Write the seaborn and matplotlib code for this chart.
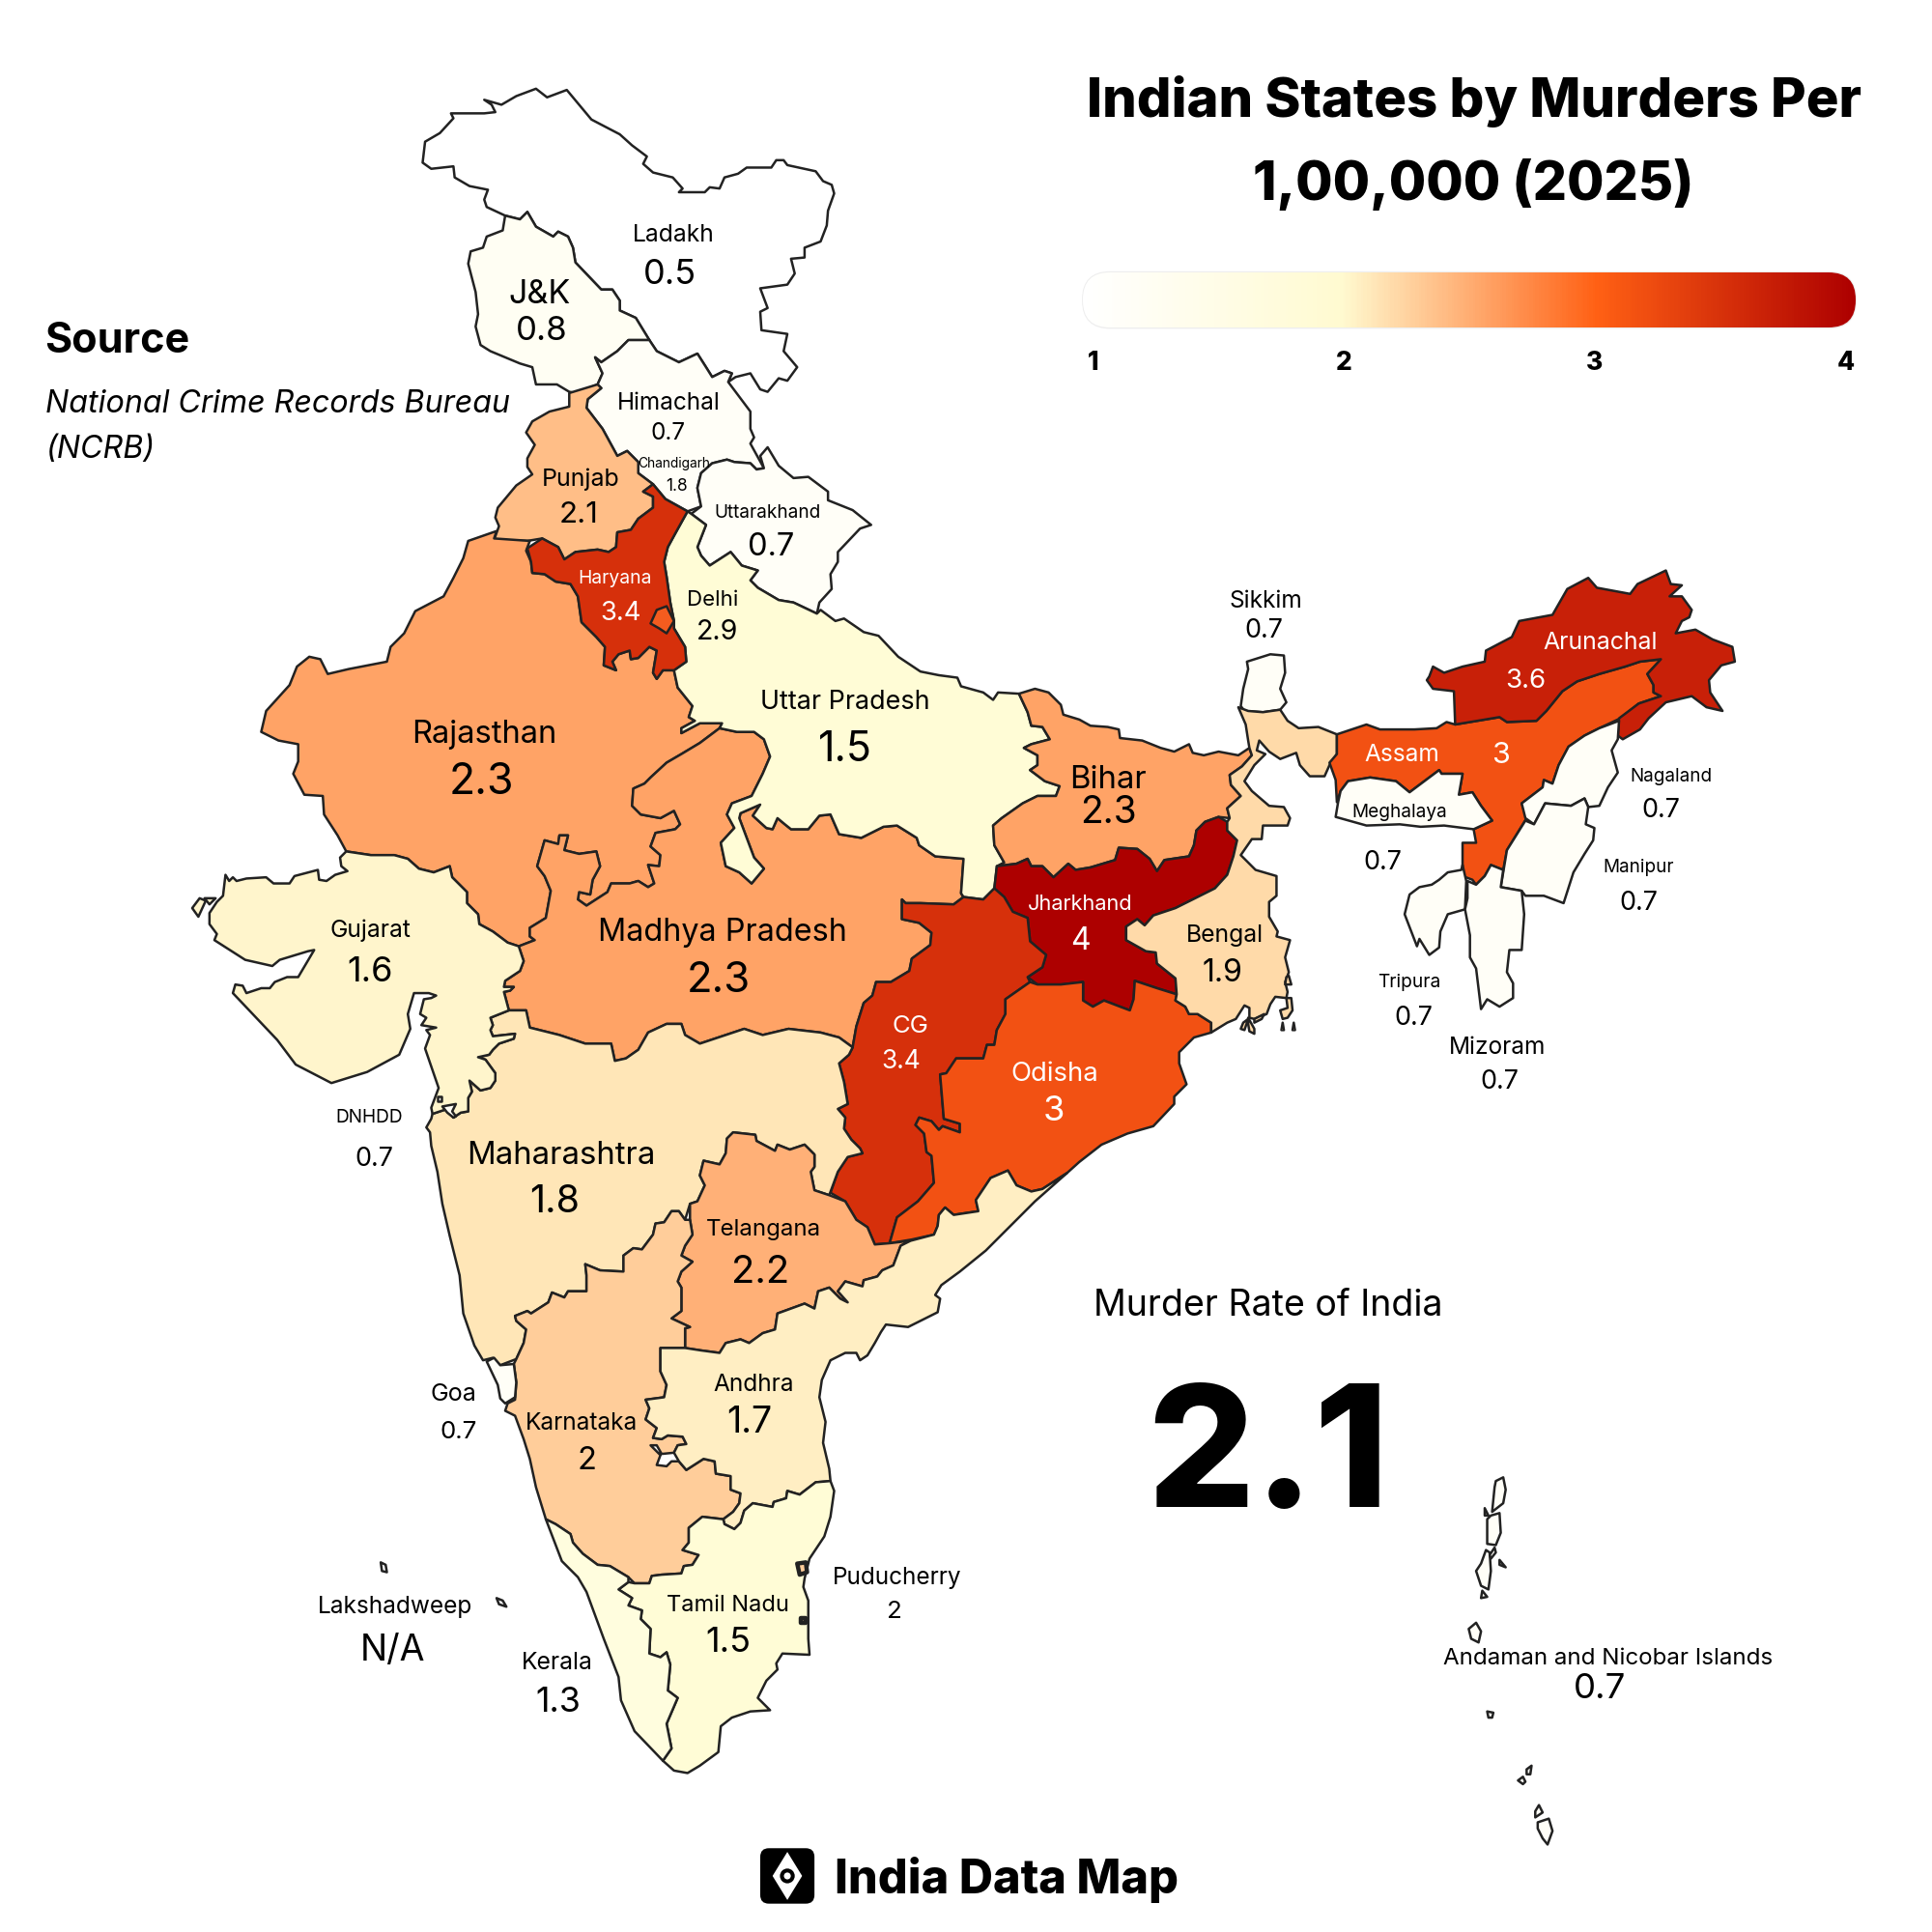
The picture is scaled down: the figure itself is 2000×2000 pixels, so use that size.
import numpy as np
import matplotlib
matplotlib.use("Agg")
import matplotlib.pyplot as plt
from matplotlib.colors import LinearSegmentedColormap, Normalize
from matplotlib.patches import FancyBboxPatch, Polygon, Circle
import seaborn as sns

# state outlines (image units, y going down)
LADAKH = [(435,72),(444,79),(460,73),(470,85),(480,97),(503,109),(513,118),(525,127),(522,133),(530,140),(546,144),(554,153),(551,156),(572,156),(576,152),(584,153),(588,144),(599,141),(606,136),(626,136),(630,130),(636,130),(639,134),(662,139),(668,147),(675,150),(677,157),(672,171),(671,183),(666,196),(653,201),(653,209),(642,210),(645,222),(639,231),(617,234),(623,250),(617,253),(618,268),(639,271),(636,285),(647,298),(639,309),(632,307),(623,318),(617,316),(609,303),(597,306),(591,310),(594,303),(588,301),(578,306),(573,298),(566,287),(551,294),(533,285),(527,276),(516,258),(503,252),(503,244),(497,235),(488,235),(467,213),(465,201),(461,192),(453,188),(449,192),(435,184),(428,172),(422,178),(410,175),(395,168),(393,162),(396,154),(381,151),(369,144),(368,135),(350,137),(343,132),(345,115),(357,108),(368,96),(366,92),(393,92),(402,91),(399,85),(393,81),(407,85),(419,78)]
JK = [(410,175),(422,178),(428,172),(435,184),(449,192),(453,188),(461,192),(465,201),(467,213),(488,235),(497,235),(503,244),(503,252),(516,258),(527,276),(510,276),(501,285),(488,294),(483,290),(489,303),(485,312),(468,319),(462,318),(452,312),(435,312),(432,298),(422,295),(398,285),(390,280),(386,265),(388,255),(386,237),(380,214),(382,204),(392,201),(395,192),(408,187)]
HIMACHAL = [(527,276),(533,285),(551,294),(566,287),(573,298),(578,306),(588,301),(594,303),(591,310),(597,318),(609,334),(609,348),(612,355),(609,360),(620,380),(614,381),(609,376),(596,375),(590,373),(578,376),(569,384),(566,396),(569,411),(558,415),(540,405),(530,393),(518,384),(518,375),(509,366),(501,370),(489,348),(476,331),(477,324),(488,315),(485,312),(489,303),(483,290),(488,294),(501,285),(510,276)]
UTTARAKHAND = [(623,363),(632,378),(644,388),(656,387),(672,399),(672,406),(692,414),(707,426),(698,429),(680,448),(680,456),(674,466),(675,478),(665,489),(663,498),(644,489),(632,487),(615,477),(609,471),(615,463),(602,459),(593,448),(576,459),(569,451),(566,444),(573,426),(561,417),(569,411),(566,396),(569,384),(578,376),(590,373),(596,375),(609,376),(614,381),(620,380),(617,370)]
PUNJAB = [(485,312),(462,319),(462,330),(446,334),(432,342),(427,351),(434,361),(428,372),(428,379),(432,385),(419,394),(404,412),(402,420),(405,427),(401,438),(428,439),(440,437),(453,444),(458,454),(467,448),(485,446),(494,448),(500,444),(501,432),(512,430),(518,421),(530,412),(530,403),(522,399),(530,393),(518,384),(518,375),(509,366),(501,370),(489,348),(476,331),(477,324),(488,315)]
HARYANA = [(428,445),(440,437),(453,444),(458,454),(467,448),(485,446),(494,448),(500,444),(501,432),(512,430),(518,421),(530,412),(530,403),(522,399),(530,393),(540,405),(558,415),(548,433),(542,444),(539,456),(541,468),(544,489),(547,504),(547,510),(556,525),(557,537),(547,544),(538,544),(533,551),(530,546),(533,528),(527,525),(518,534),(512,535),(511,528),(502,531),(497,537),(500,544),(490,540),(491,525),(484,517),(472,505),(469,484),(463,474),(451,472),(442,466),(432,465),(431,456)]
DELHI = [(533,495),(541,492),(547,504),(541,514),(535,510),(528,506)]
RAJASTHAN = [(380,439),(403,431),(401,437),(430,439),(427,447),(431,456),(432,465),(442,466),(451,472),(463,474),(469,484),(472,505),(484,517),(491,525),(490,540),(500,544),(497,537),(502,531),(511,528),(512,535),(518,534),(527,525),(533,528),(530,546),(533,551),(538,544),(547,544),(550,558),(562,573),(559,582),(564,585),(553,591),(553,595),(568,587),(586,587),(584,591),(568,603),(553,612),(541,619),(528,631),(523,636),(514,640),(513,654),(520,661),(536,664),(547,658),(552,669),(548,673),(532,676),(528,687),(536,694),(535,703),(526,702),(531,717),(526,720),(518,715),(511,717),(496,717),(493,724),(476,735),(469,730),(470,724),(479,726),(481,714),(487,703),(484,691),(470,693),(458,690),(461,678),(454,678),(453,685),(442,682),(436,703),(442,711),(447,723),(443,745),(430,753),(430,760),(434,763),(421,768),(412,765),(400,756),(389,750),(388,742),(379,733),(379,724),(367,712),(365,703),(352,708),(340,705),(331,697),(320,694),(301,694),(281,691),(274,678),(263,661),(262,646),(247,645),(238,628),(242,618),(242,604),(226,601),(212,594),(216,577),(235,556),(241,541),(251,533),(260,535),(266,547),(283,543),(314,537),(317,525),(328,514),(337,496),(360,484),(368,469),(376,453)]
MADHYA_PRADESH = [(584,591),(598,594),(612,594),(620,600),(625,614),(619,628),(610,646),(594,652),(590,661),(596,672),(585,684),(589,703),(600,708),(610,717),(620,705),(612,696),(600,664),(601,660),(617,653),(611,662),(622,672),(627,673),(631,664),(637,669),(642,673),(656,673),(665,662),(674,661),(681,677),(699,680),(717,671),(728,670),(744,680),(746,686),(759,695),(782,697),(780,725),(782,728),(774,734),(747,733),(735,733),(732,730),(732,746),(746,749),(756,757),(755,767),(740,778),(738,788),(723,797),(711,797),(708,808),(701,814),(695,833),(692,850),(681,842),(666,838),(640,835),(619,840),(604,835),(586,841),(568,847),(556,840),(553,831),(541,831),(526,838),(518,852),(508,859),(499,861),(496,847),(475,847),(454,840),(430,834),(427,820),(413,820),(409,805),(414,804),(417,801),(409,801),(410,796),(422,788),(425,780),(421,768),(434,763),(430,760),(430,753),(443,745),(447,723),(442,711),(436,703),(442,682),(453,685),(454,678),(461,678),(458,690),(470,693),(484,691),(487,703),(481,714),(479,726),(470,724),(469,730),(476,735),(493,724),(496,717),(511,717),(518,715),(526,720),(531,717),(526,702),(535,703),(536,694),(528,687),(532,676),(548,673),(552,669),(547,658),(536,664),(520,661),(513,654),(514,640),(523,636),(528,631),(541,619),(553,612),(568,603)]
UTTAR_PRADESH = [(561,417),(573,426),(566,444),(569,451),(576,459),(593,448),(602,459),(615,463),(609,471),(615,477),(632,487),(644,489),(663,498),(666,495),(678,504),(685,502),(701,513),(713,516),(729,533),(747,545),(762,548),(777,550),(780,557),(798,562),(806,568),(810,562),(827,563),(834,578),(837,589),(846,590),(852,600),(837,604),(831,607),(842,613),(842,621),(836,625),(848,634),(860,638),(857,646),(842,646),(830,652),(813,664),(806,670),(807,686),(815,700),(809,704),(807,721),(798,730),(782,728),(780,725),(782,697),(759,695),(746,686),(744,680),(728,670),(717,671),(699,680),(681,677),(674,661),(665,662),(656,673),(642,673),(637,669),(631,664),(627,673),(622,672),(611,662),(617,653),(601,660),(600,664),(612,696),(620,705),(610,717),(600,708),(589,703),(585,684),(596,672),(590,661),(594,652),(610,646),(619,628),(625,614),(620,600),(612,594),(598,594),(584,591),(586,587),(568,587),(553,595),(553,591),(564,585),(559,582),(562,573),(550,558),(547,544),(557,537),(556,525),(547,510),(547,504),(544,489),(541,468),(539,456),(542,444),(548,433),(558,415)]
BIHAR = [(827,563),(840,559),(851,562),(861,572),(863,580),(876,584),(885,589),(899,590),(908,592),(909,599),(927,601),(942,607),(953,610),(965,604),(968,611),(977,613),(989,610),(1005,613),(1014,607),(1016,613),(1008,622),(998,629),(999,637),(1007,646),(996,656),(998,664),(989,663),(978,667),(971,674),(969,686),(965,695),(945,698),(939,707),(933,697),(923,689),(908,688),(905,698),(885,704),(873,706),(867,701),(855,712),(846,703),(837,703),(834,697),(825,701),(809,703),(815,700),(807,686),(806,670),(813,664),(830,652),(842,646),(857,646),(860,638),(848,634),(836,625),(842,621),(842,613),(831,607),(837,604),(852,600),(846,590),(837,589),(834,578)]
JHARKHAND = [(809,703),(825,701),(834,697),(837,703),(846,703),(855,712),(867,701),(873,706),(885,704),(905,698),(908,688),(923,689),(933,697),(939,707),(945,698),(965,695),(969,686),(971,674),(978,667),(989,663),(996,667),(996,674),(1004,682),(1001,695),(996,710),(986,721),(972,728),(954,737),(936,743),(929,751),(923,746),(914,752),(914,763),(930,772),(938,773),(939,782),(954,794),(955,807),(939,802),(921,796),(920,811),(917,820),(909,817),(896,812),(887,817),(879,812),(879,797),(861,799),(842,799),(834,793),(846,785),(849,775),(836,764),(834,745),(822,740),(815,728),(807,721)]
CHHATTISGARH = [(807,721),(815,728),(822,740),(834,745),(836,764),(849,775),(846,785),(834,793),(836,797),(816,811),(816,823),(809,836),(807,848),(801,848),(798,859),(776,859),(768,871),(763,872),(764,884),(766,908),(779,912),(779,919),(765,914),(762,917),(756,910),(746,907),(743,913),(750,920),(752,935),(756,938),(758,960),(745,975),(728,988),(722,1009),(710,1010),(704,996),(695,990),(686,975),(674,968),(680,951),(688,939),(700,936),(698,932),(691,925),(685,916),(686,907),(680,900),(688,896),(685,878),(681,863),(689,856),(692,850),(695,833),(701,814),(708,808),(711,797),(723,797),(738,788),(740,778),(755,767),(756,757),(746,749),(732,746),(732,730),(735,733),(747,733),(774,734),(782,728),(798,730)]
ODISHA = [(836,797),(842,799),(861,799),(879,797),(879,812),(887,817),(896,812),(909,817),(917,820),(920,811),(921,796),(939,802),(955,807),(954,812),(962,817),(965,823),(972,823),(983,830),(983,838),(969,842),(957,854),(957,863),(963,880),(953,890),(953,896),(936,914),(915,920),(894,929),(876,943),(866,952),(846,965),(837,967),(825,962),(818,950),(804,956),(792,974),(794,983),(774,986),(767,980),(762,986),(761,995),(758,1002),(740,1006),(722,1009),(728,988),(745,975),(758,960),(756,938),(752,935),(750,920),(743,913),(746,907),(756,910),(762,917),(765,914),(779,919),(779,912),(766,908),(764,884),(763,872),(768,871),(776,859),(798,859),(801,848),(807,848),(809,836),(816,823),(816,811)]
MAHARASHTRA = [(413,820),(398,826),(400,832),(398,836),(400,841),(418,839),(417,843),(405,847),(400,852),(397,856),(388,858),(394,860),(402,871),(402,877),(398,883),(390,885),(381,877),(383,886),(380,891),(380,902),(374,903),(368,907),(363,900),(351,904),(350,908),(346,915),(349,919),(350,930),(355,951),(359,977),(365,1003),(373,1035),(376,1066),(385,1092),(392,1104),(400,1102),(406,1108),(419,1103),(425,1090),(427,1079),(419,1072),(418,1068),(428,1064),(431,1066),(445,1057),(448,1049),(458,1053),(461,1048),(476,1048),(476,1035),(475,1026),(487,1031),(506,1032),(506,1019),(514,1013),(521,1014),(530,1002),(532,993),(539,992),(545,983),(551,983),(556,990),(560,977),(566,975),(572,962),(568,954),(571,942),(584,945),(589,936),(590,924),(595,919),(613,921),(614,926),(629,934),(631,929),(641,933),(653,929),(661,937),(661,947),(658,951),(661,966),(673,970),(680,951),(688,939),(700,936),(698,932),(691,925),(685,916),(686,907),(680,900),(688,896),(685,878),(681,863),(689,856),(692,850),(681,842),(666,838),(640,835),(619,840),(604,835),(586,841),(568,847),(556,840),(553,831),(541,831),(526,838),(518,852),(508,859),(499,861),(496,847),(475,847),(454,840),(430,834),(427,820)]
TELANGANA = [(595,919),(613,921),(614,926),(629,934),(631,929),(641,933),(653,929),(661,937),(661,947),(658,951),(661,966),(673,970),(686,975),(695,990),(704,996),(710,1010),(722,1009),(739,1007),(731,1011),(725,1027),(716,1031),(712,1036),(701,1039),(700,1044),(686,1040),(680,1048),(688,1057),(682,1054),(673,1045),(664,1048),(661,1062),(653,1058),(631,1066),(629,1079),(619,1082),(608,1090),(601,1087),(589,1090),(584,1098),(569,1096),(556,1094),(556,1078),(560,1077),(545,1070),(553,1064),(553,1045),(550,1040),(553,1032),(562,1024),(553,1019),(556,1011),(562,1002),(560,990),(560,977),(566,975),(572,962),(568,954),(571,942),(584,945),(589,936),(590,924)]
KARNATAKA = [(418,1068),(428,1064),(431,1066),(445,1057),(448,1049),(458,1053),(461,1048),(476,1048),(476,1035),(475,1026),(487,1031),(506,1032),(506,1019),(514,1013),(521,1014),(530,1002),(532,993),(539,992),(545,983),(551,983),(556,990),(560,990),(562,1002),(556,1011),(553,1019),(562,1024),(553,1032),(550,1040),(553,1045),(553,1064),(545,1070),(560,1077),(556,1078),(556,1094),(536,1094),(536,1113),(541,1124),(539,1134),(524,1136),(527,1143),(524,1152),(533,1159),(530,1167),(537,1168),(542,1165),(554,1166),(557,1172),(550,1173),(547,1179),(537,1180),(533,1173),(528,1173),(536,1181),(533,1189),(541,1190),(545,1186),(551,1186),(557,1193),(571,1184),(580,1186),(581,1196),(593,1198),(593,1209),(601,1212),(600,1220),(595,1227),(587,1233),(570,1231),(559,1240),(559,1252),(554,1258),(567,1262),(562,1270),(555,1271),(553,1277),(537,1278),(529,1279),(527,1285),(515,1285),(510,1280),(495,1271),(485,1270),(473,1261),(465,1252),(463,1245),(451,1237),(443,1233),(435,1207),(430,1184),(425,1168),(418,1149),(410,1145),(412,1139),(418,1136),(419,1122),(417,1107),(419,1103),(425,1090),(427,1079),(419,1072)]
GOA = [(395,1105),(401,1102),(406,1108),(417,1107),(419,1122),(418,1134),(410,1139),(406,1135),(404,1124)]
ANDHRA = [(556,1094),(569,1096),(584,1098),(589,1090),(601,1087),(608,1090),(619,1082),(629,1079),(631,1066),(653,1058),(661,1062),(664,1048),(673,1045),(682,1054),(688,1057),(680,1048),(686,1040),(700,1044),(701,1039),(712,1036),(716,1031),(725,1027),(731,1011),(739,1007),(758,1002),(761,995),(762,986),(767,980),(774,986),(794,983),(792,974),(804,956),(818,950),(825,962),(837,967),(846,965),(866,952),(840,975),(820,995),(800,1015),(779,1032),(764,1043),(759,1051),(763,1054),(761,1065),(749,1071),(737,1077),(719,1075),(715,1081),(710,1090),(704,1100),(698,1104),(695,1098),(686,1098),(674,1104),(667,1120),(665,1134),(670,1154),(668,1171),(673,1192),(674,1202),(662,1203),(649,1213),(639,1210),(638,1216),(628,1219),(627,1223),(611,1220),(604,1226),(601,1236),(596,1241),(588,1237),(587,1233),(595,1227),(600,1220),(601,1212),(593,1209),(593,1198),(581,1196),(580,1186),(571,1184),(557,1193),(551,1186),(547,1179),(550,1173),(557,1172),(554,1166),(542,1165),(537,1168),(530,1167),(533,1159),(524,1152),(527,1143),(524,1136),(539,1134),(541,1124),(536,1113),(536,1094)]
TAMIL_NADU = [(674,1202),(677,1210),(674,1231),(669,1247),(657,1265),(653,1281),(652,1288),(656,1299),(656,1330),(657,1343),(635,1342),(630,1350),(631,1355),(622,1364),(615,1378),(625,1388),(609,1389),(594,1394),(585,1401),(583,1422),(568,1433),(558,1439),(547,1437),(538,1429),(545,1419),(541,1399),(550,1378),(542,1372),(544,1351),(541,1341),(536,1345),(527,1342),(528,1322),(520,1314),(521,1307),(510,1303),(513,1297),(502,1290),(510,1284),(515,1285),(527,1285),(529,1279),(537,1278),(553,1277),(555,1271),(562,1270),(567,1262),(554,1258),(559,1252),(559,1240),(570,1231),(587,1233),(588,1237),(596,1241),(601,1236),(604,1226),(611,1220),(627,1223),(628,1219),(638,1216),(639,1210),(649,1213),(662,1203)]
KERALA = [(443,1233),(451,1237),(463,1245),(465,1252),(473,1261),(485,1270),(495,1271),(510,1280),(510,1284),(502,1290),(513,1297),(510,1303),(521,1307),(520,1314),(528,1322),(527,1342),(536,1345),(541,1341),(544,1351),(542,1372),(550,1378),(541,1399),(545,1419),(538,1429),(515,1405),(504,1380),(502,1361),(490,1330),(476,1292),(469,1280),(456,1267)]
GUJARAT = [(281,691),(276,696),(277,703),(282,707),(272,710),(265,715),(259,714),(258,706),(239,711),(235,717),(222,717),(216,712),(200,713),(192,715),(189,712),(186,715),(183,710),(181,727),(176,732),(170,741),(170,750),(176,758),(174,763),(199,779),(221,784),(227,779),(250,772),(255,771),(242,793),(233,793),(223,797),(219,802),(212,802),(200,806),(197,800),(191,799),(189,806),(225,844),(240,864),(269,879),(298,870),(324,856),(333,835),(331,823),(336,806),(348,806),(354,808),(350,810),(344,811),(341,823),(346,826),(342,832),(354,834),(346,836),(349,840),(345,851),(356,883),(350,899),(351,904),(363,900),(368,907),(374,903),(380,902),(380,891),(383,886),(381,877),(390,885),(398,883),(402,877),(402,871),(394,860),(388,858),(397,856),(400,852),(405,847),(417,843),(418,839),(400,841),(398,836),(400,832),(398,826),(413,820),(409,805),(414,804),(417,801),(409,801),(410,796),(422,788),(425,780),(421,768),(412,765),(400,756),(389,750),(388,742),(379,733),(379,724),(367,712),(365,703),(352,708),(340,705),(331,697),(320,694),(301,694)]
KUTCH_ISLET_A = [(156,737),(162,729),(167,731),(161,744)]
KUTCH_ISLET_B = [(166,729),(175,729),(170,734)]
DAMAN = [(359,898),(370,896),(367,902),(370,906),(368,907),(363,903)]
DIU = [(355,890),(358,890),(358,894),(355,894)]
SIKKIM = [(1012,537),(1031,531),(1042,532),(1043,546),(1039,559),(1044,570),(1039,576),(1025,578),(1010,577),(1007,573),(1009,559),(1013,543)]
BENGAL = [(1005,574),(1013,577),(1025,578),(1039,576),(1045,585),(1054,591),(1070,590),(1085,596),(1085,612),(1079,621),(1075,630),(1063,630),(1055,621),(1052,611),(1039,616),(1030,610),(1022,601),(1020,609),(1027,612),(1018,621),(1010,634),(1016,642),(1030,654),(1042,655),(1047,664),(1045,670),(1025,670),(1024,681),(1016,681),(1007,694),(1019,706),(1036,711),(1036,727),(1030,732),(1030,744),(1037,756),(1036,760),(1047,763),(1043,777),(1046,789),(1043,797),(1045,805),(1044,810),(1035,809),(1031,815),(1028,823),(1018,827),(1014,826),(1014,818),(1010,816),(1003,827),(996,830),(983,838),(983,830),(972,823),(965,823),(962,817),(954,812),(955,807),(954,794),(939,782),(938,773),(930,772),(914,763),(914,752),(923,746),(929,751),(936,743),(954,737),(972,728),(986,721),(996,710),(1001,695),(1004,682),(996,674),(996,667),(998,664),(996,656),(1007,646),(999,637),(998,629),(1008,622),(1016,613),(1014,607),(1013,601),(1011,588)]
BENGAL_ISLE_A = [(1044,793),(1046,792),(1048,799),(1043,799)]
BENGAL_ISLE_B = [(1039,820),(1045,818),(1044,810),(1048,810),(1049,820),(1045,826),(1041,827)]
BENGAL_ISLE_C = [(1013,826),(1018,835),(1018,839),(1014,837),(1013,831)]
BENGAL_ISLE_D = [(1009,830),(1013,827),(1010,836),(1007,835)]
BENGAL_ISLE_E = [(1018,827),(1026,823),(1024,827),(1018,830)]
BENGAL_ISLE_F = [(1040,836),(1041,830),(1042,836)]
BENGAL_ISLE_G = [(1049,836),(1050,830),(1051,836)]
ASSAM = [(1085,596),(1100,591),(1109,588),(1120,592),(1148,592),(1166,591),(1174,586),(1181,588),(1217,582),(1223,586),(1247,585),(1255,577),(1268,561),(1280,553),(1298,547),(1319,541),(1331,537),(1348,535),(1337,547),(1342,556),(1342,562),(1348,565),(1330,571),(1315,583),(1298,591),(1286,597),(1273,606),(1265,621),(1260,636),(1253,633),(1252,639),(1235,652),(1239,664),(1223,690),(1220,706),(1210,702),(1205,711),(1198,718),(1195,714),(1187,711),(1187,684),(1198,684),(1196,673),(1211,666),(1202,654),(1195,643),(1184,645),(1187,628),(1170,628),(1168,625),(1156,634),(1144,643),(1133,634),(1112,631),(1094,634),(1088,642),(1085,651),(1084,633),(1079,619),(1085,612)]
MEGHALAYA = [(1094,634),(1112,631),(1133,634),(1144,643),(1156,634),(1168,625),(1170,628),(1187,628),(1184,645),(1195,643),(1202,654),(1211,666),(1196,673),(1172,670),(1153,671),(1136,669),(1109,670),(1084,663),(1086,651),(1088,642)]
ARUNACHAL = [(1160,549),(1163,541),(1172,546),(1187,541),(1205,537),(1206,528),(1227,517),(1233,504),(1260,499),(1272,478),(1289,469),(1296,477),(1323,482),(1329,474),(1352,463),(1356,474),(1365,475),(1355,484),(1365,484),(1373,495),(1371,501),(1365,504),(1360,514),(1376,511),(1390,519),(1406,525),(1408,537),(1397,540),(1387,552),(1388,562),(1398,577),(1385,574),(1373,565),(1352,570),(1338,583),(1331,592),(1317,600),(1313,597),(1314,583),(1330,571),(1348,565),(1342,562),(1342,556),(1337,547),(1348,535),(1331,537),(1319,541),(1298,547),(1280,553),(1268,561),(1255,577),(1247,585),(1223,586),(1217,582),(1181,588),(1180,561),(1163,559),(1158,552)]
NAGALAND = [(1314,585),(1313,600),(1308,609),(1313,627),(1305,639),(1298,654),(1289,655),(1286,648),(1275,654),(1254,652),(1245,669),(1238,664),(1235,652),(1252,639),(1253,633),(1260,636),(1265,621),(1273,606),(1286,597),(1298,591)]
MANIPUR = [(1254,652),(1275,654),(1286,648),(1289,655),(1287,669),(1294,672),(1293,682),(1286,693),(1277,708),(1269,733),(1253,727),(1238,727),(1235,723),(1218,720),(1223,690),(1238,666),(1245,669)]
TRIPURA = [(1187,702),(1190,715),(1189,738),(1175,742),(1169,756),(1168,769),(1160,775),(1152,762),(1150,768),(1140,742),(1144,726),(1152,720),(1162,718),(1168,714),(1175,708),(1186,706)]
MIZORAM = [(1198,718),(1205,711),(1210,702),(1220,706),(1218,720),(1235,723),(1237,742),(1235,771),(1225,771),(1223,789),(1228,798),(1228,810),(1217,817),(1207,811),(1202,819),(1198,786),(1193,777),(1193,759),(1189,738),(1191,729),(1191,715)]
LAK_A = [(309,1268),(313,1270),(314,1276),(310,1275)]
LAK_B = [(403,1297),(408,1299),(411,1304),(405,1302)]
PUDU_A = [(647,1269),(654,1268),(655,1276),(649,1278)]
PUDU_B = [(650,1313),(654,1313),(654,1317),(650,1317)]
AN_1 = [(1220,1199),(1222,1209),(1220,1220),(1211,1227),(1213,1207),(1214,1202)]
AN_2 = [(1210,1230),(1217,1228),(1218,1244),(1214,1254),(1207,1253),(1207,1233)]
AN_3 = [(1206,1258),(1209,1260),(1210,1275),(1208,1290),(1202,1287),(1198,1275),(1202,1269)]
AN_4 = [(1213,1256),(1214,1260),(1210,1265),(1209,1262)]
AN_5 = [(1203,1291),(1207,1296),(1202,1297)]
AN_6 = [(1205,1224),(1208,1230),(1205,1230)]
AN_7 = [(1217,1266),(1222,1272),(1217,1270)]
AN_8 = [(1198,1317),(1202,1324),(1200,1333),(1194,1330),(1192,1322)]
AN_9 = [(1207,1389),(1212,1390),(1211,1394),(1208,1394)]
AN_10 = [(1232,1445),(1236,1442),(1238,1446),(1236,1448)]
AN_11 = [(1239,1436),(1243,1433),(1242,1440),(1239,1440)]
AN_12 = [(1246,1470),(1249,1465),(1252,1471),(1246,1475)]
AN_13 = [(1248,1479),(1257,1476),(1260,1486),(1256,1497),(1252,1492),(1248,1484)]

STATE_NAMES = ["Ladakh", "J&K", "Himachal", "Chandigarh", "Punjab", "Uttarakhand", "Haryana", "Delhi",
               "Rajasthan", "Uttar Pradesh", "Bihar", "Gujarat", "Madhya Pradesh", "Jharkhand", "Bengal",
               "CG", "Odisha", "Maharashtra", "Telangana", "Andhra", "Karnataka", "Goa", "DNHDD",
               "Lakshadweep", "Kerala", "Tamil Nadu", "Puducherry", "Sikkim", "Arunachal", "Assam",
               "Meghalaya", "Nagaland", "Manipur", "Tripura", "Mizoram", "Andaman and Nicobar Islands"]
RATES = [0.5, 0.8, 0.7, 1.8, 2.1, 0.7, 3.4, 2.9,
         2.3, 1.5, 2.3, 1.6, 2.3, 4, 1.9,
         3.4, 3, 1.8, 2.2, 1.7, 2, 0.7, 0.7,
         np.nan, 1.3, 1.5, 2, 0.7, 3.6, 3,
         0.7, 0.7, 0.7, 0.7, 0.7, 0.7]
NATIONAL_RATE = 2.1
LEGEND_TICKS = [1, 2, 3, 4]

SHAPES = {
    "Ladakh": [LADAKH], "J&K": [JK], "Himachal": [HIMACHAL], "Uttarakhand": [UTTARAKHAND],
    "Punjab": [PUNJAB], "Rajasthan": [RAJASTHAN], "Madhya Pradesh": [MADHYA_PRADESH],
    "Uttar Pradesh": [UTTAR_PRADESH], "Haryana": [HARYANA], "Delhi": [DELHI], "Bihar": [BIHAR],
    "Jharkhand": [JHARKHAND], "CG": [CHHATTISGARH], "Odisha": [ODISHA], "Maharashtra": [MAHARASHTRA],
    "Telangana": [TELANGANA], "Karnataka": [KARNATAKA], "Goa": [GOA], "Andhra": [ANDHRA],
    "Tamil Nadu": [TAMIL_NADU], "Kerala": [KERALA], "Gujarat": [GUJARAT, KUTCH_ISLET_A, KUTCH_ISLET_B],
    "DNHDD": [DAMAN, DIU], "Sikkim": [SIKKIM],
    "Bengal": [BENGAL, BENGAL_ISLE_A, BENGAL_ISLE_B, BENGAL_ISLE_C, BENGAL_ISLE_D, BENGAL_ISLE_E, BENGAL_ISLE_F, BENGAL_ISLE_G],
    "Assam": [ASSAM], "Meghalaya": [MEGHALAYA], "Arunachal": [ARUNACHAL], "Nagaland": [NAGALAND],
    "Manipur": [MANIPUR], "Tripura": [TRIPURA], "Mizoram": [MIZORAM], "Lakshadweep": [LAK_A, LAK_B],
    "Puducherry": [PUDU_A, PUDU_B],
    "Andaman and Nicobar Islands": [AN_1, AN_2, AN_3, AN_4, AN_5, AN_6, AN_7, AN_8, AN_9, AN_10, AN_11, AN_12, AN_13],
}

BLACK = "#000000"
WHITE = "#ffffff"
# name x, y, size, then value x, y, size, text colour
LABELS = {
    "Ladakh": (547, 189, 17.7, 544, 221, 26, BLACK),
    "J&K": (438, 237, 24.5, 440, 267, 25, BLACK),
    "Himachal": (543, 325, 17.5, 542, 350, 17.5, BLACK),
    "Chandigarh": (547, 374, 9.9, 549, 393, 12.5, BLACK),
    "Punjab": (471, 387, 18, 470, 416, 22.5, BLACK),
    "Uttarakhand": (623, 414, 13.7, 626, 442, 23.5, BLACK),
    "Haryana": (499, 468, 13.9, 504, 496, 19.7, WHITE),
    "Delhi": (578, 485, 16, 582, 511, 20.6, BLACK),
    "Rajasthan": (393, 594, 23.5, 391, 633, 32, BLACK),
    "Uttar Pradesh": (686, 568, 19.4, 686, 607, 31, BLACK),
    "Bihar": (899, 631, 23.7, 900, 658, 28, BLACK),
    "Gujarat": (301, 753, 17.7, 300, 787, 26, BLACK),
    "Madhya Pradesh": (586, 755, 23.3, 583, 794, 31.5, BLACK),
    "Jharkhand": (877, 732, 15.7, 877, 762, 23, WHITE),
    "Bengal": (994, 757, 17.8, 992, 788, 23, BLACK),
    "CG": (739, 831, 18.5, 731, 860, 19, WHITE),
    "Odisha": (856, 870, 19.8, 855, 900, 26, WHITE),
    "Maharashtra": (455, 936, 23.7, 450, 974, 28.4, BLACK),
    "Telangana": (620, 996, 17.3, 617, 1031, 28.7, BLACK),
    "Andhra": (612, 1122, 17.6, 608, 1153, 27, BLACK),
    "Karnataka": (472, 1153, 17.6, 476, 1184, 23.5, BLACK),
    "Goa": (368, 1130, 18, 372, 1160, 18.7, BLACK),
    "DNHDD": (300, 905, 13.8, 304, 939, 19.4, BLACK),
    "Lakshadweep": (321, 1302, 17.6, 319, 1338, 27, BLACK),
    "Kerala": (452, 1348, 17.8, 453, 1380, 25.7, BLACK),
    "Tamil Nadu": (591, 1301, 17, 591, 1331, 26, BLACK),
    "Puducherry": (728, 1279, 17.5, 726, 1306, 18.6, BLACK),
    "Sikkim": (1027, 486, 17.6, 1026, 510, 19.4, BLACK),
    "Arunachal": (1299, 520, 17.9, 1238, 551, 20, WHITE),
    "Assam": (1138, 611, 17.6, 1218, 611, 22, WHITE),
    "Meghalaya": (1136, 657, 13.7, 1122, 698, 19.4, BLACK),
    "Nagaland": (1356, 628, 13.6, 1348, 656, 19.4, BLACK),
    "Manipur": (1330, 702, 13.6, 1330, 731, 19.4, BLACK),
    "Tripura": (1144, 795, 13.8, 1147, 824, 19.4, BLACK),
    "Mizoram": (1215, 848, 17.6, 1217, 876, 19.4, BLACK),
    "Andaman and Nicobar Islands": (1305, 1344, 17.4, 1298, 1369, 26.4, BLACK),
}
# nudge from the centre line of the text box to where the glyphs sit
TEXT_NUDGE = 2

sns.set_theme(style="white")
plt.rcParams["font.family"] = ["Inter", "DejaVu Sans"]

# colour scale: rate to colour, anchors read from the filled states
stops = [(0.5, "#ffffff"), (1.5, "#fffcd6"), (1.8, "#ffe7b8"), (2.0, "#ffcc99"), (2.3, "#ffa366"), (3.0, "#f25113"), (4.0, "#ad0000")]
rate_norm = Normalize(0.5, 4)
rate_cmap = LinearSegmentedColormap.from_list("rates", [(rate_norm(v), c) for v, c in stops])
legend_cmap = LinearSegmentedColormap.from_list("legend", ["#ffffff", "#fffad0", "#ff6014", "#ad0000"])

fig = plt.figure(figsize=(20, 20), dpi=100, facecolor="white")
ax = fig.add_axes([0, 0, 1, 1])
ax.set_xlim(0, 1568)
ax.set_ylim(1568, 0)
ax.axis("off")

rate_of = dict(zip(STATE_NAMES, RATES))
for name, parts in SHAPES.items():
    rate = rate_of[name]
    face = WHITE if np.isnan(rate) else rate_cmap(rate_norm(rate))
    width = 3.2 if name == "Puducherry" else 1.8
    for part in parts:
        xs, ys = zip(*part)
        ax.fill(xs, ys, facecolor=face, edgecolor="#222222", linewidth=width, joinstyle="round", zorder=2)

for name, rate in zip(STATE_NAMES, RATES):
    nx, ny, ns, vx, vy, vs, col = LABELS[name]
    value = "N/A" if np.isnan(rate) else f"{rate:g}"
    ax.text(nx, ny + TEXT_NUDGE, name, fontsize=ns, color=col, ha="center", va="center", zorder=4)
    ax.text(vx, vy + TEXT_NUDGE, value, fontsize=vs, color=col, ha="center", va="center", zorder=4)

# title, source and the national figure
ax.text(1196, 82, "Indian States by Murders Per", fontsize=40.5, fontweight=800, color=BLACK, ha="center", va="center")
ax.text(1196, 150, "1,00,000 (2025)", fontsize=40, fontweight=800, color=BLACK, ha="center", va="center")
ax.text(36, 277, "Source", fontsize=31, fontweight="bold", color=BLACK, ha="left", va="center")
ax.text(37, 328, "National Crime Records Bureau", fontsize=23.2, style="italic", color=BLACK, ha="left", va="center")
ax.text(37, 365, "(NCRB)", fontsize=23.2, style="italic", color=BLACK, ha="left", va="center")
ax.text(1029, 1060, "Murder Rate of India", fontsize=27, color=BLACK, ha="center", va="center")
ax.text(1029, 1187, f"{NATIONAL_RATE:g}", fontsize=126, fontweight=800, color=BLACK, ha="center", va="center")

# gradient legend as a one row heatmap clipped to a pill
bar_ax = fig.add_axes([879 / 1568, 1 - 266.5 / 1568, 627 / 1568, 45.5 / 1568])
ramp = np.linspace(LEGEND_TICKS[0], LEGEND_TICKS[-1], 400).reshape(1, -1)
sns.heatmap(ramp, ax=bar_ax, cmap=legend_cmap, cbar=False, xticklabels=False, yticklabels=False, rasterized=True)
pill = FancyBboxPatch((879 + 22, 221 + 22), 627 - 44, 1, boxstyle="round,pad=22", transform=ax.transData,
                      facecolor="none", edgecolor="#eeeeee", linewidth=1.6, zorder=6)
ax.add_patch(pill)
bar_ax.collections[0].set_clip_path(pill)
bar_ax.axis("off")
bar_ax.patch.set_alpha(0)
for tick, x in zip(LEGEND_TICKS, np.linspace(887, 1498, len(LEGEND_TICKS))):
    ax.text(x, 295, str(tick), fontsize=19, fontweight=800, color=BLACK, ha="center", va="center")

# footer logo and name
ax.add_patch(FancyBboxPatch((624, 1507), 30, 31, boxstyle="round,pad=7", facecolor=BLACK, edgecolor="none"))
ax.add_patch(Polygon([(639, 1503), (651, 1522.5), (639, 1542), (627, 1522.5)], facecolor=WHITE, edgecolor="none", zorder=3))
ax.add_patch(Circle((639, 1522.5), 6, facecolor=BLACK, edgecolor="none", zorder=4))
ax.add_patch(Circle((639, 1522.5), 2.8, facecolor=WHITE, edgecolor="none", zorder=5))
ax.text(677, 1526, "India Data Map", fontsize=35, fontweight=800, color=BLACK, ha="left", va="center")

fig.savefig("out.png", dpi=100, facecolor="white")
